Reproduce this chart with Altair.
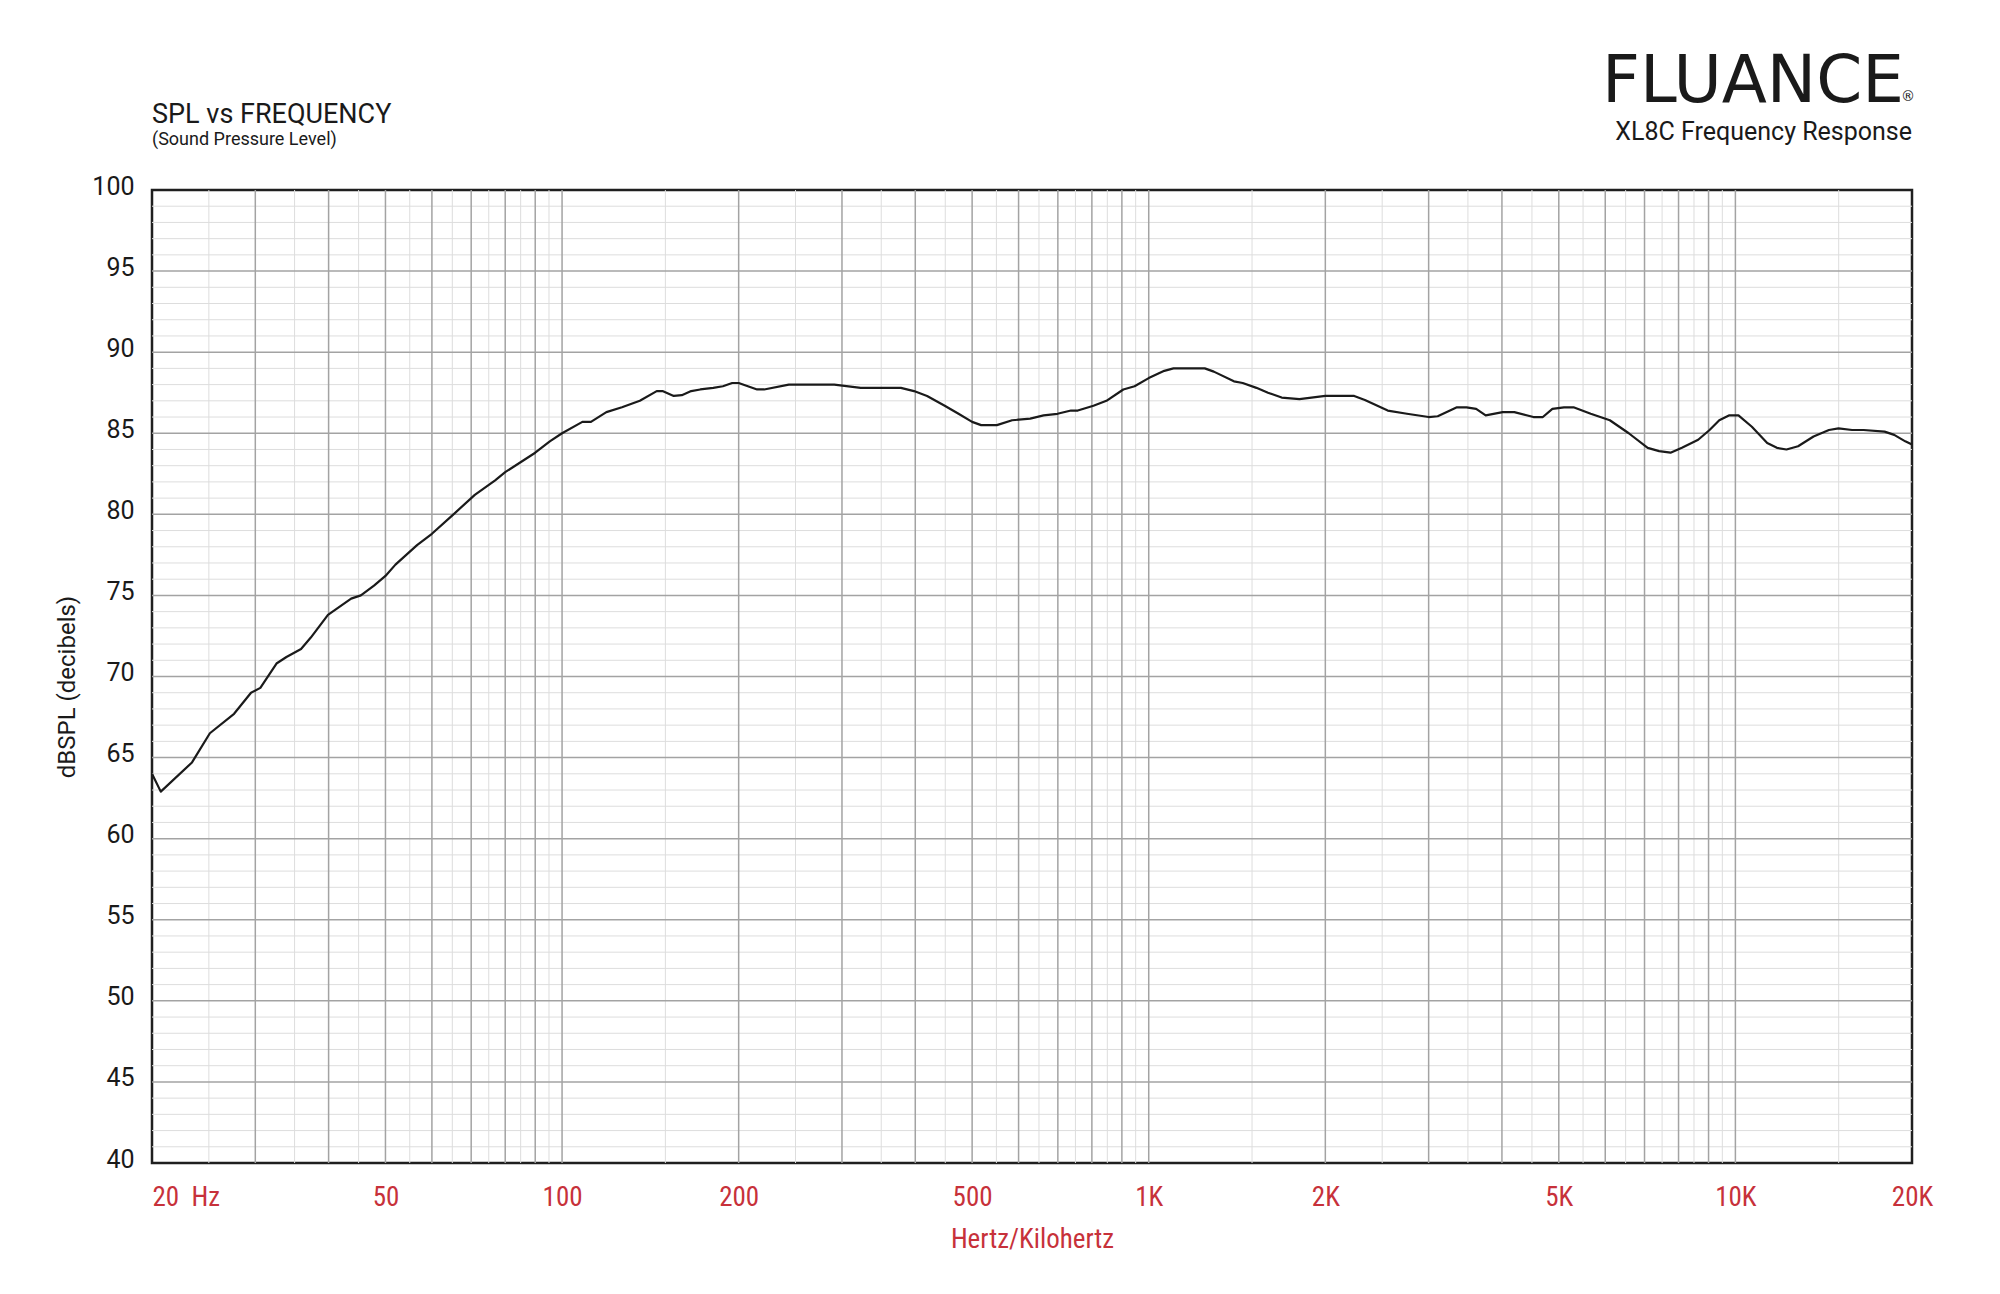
import json
import altair as alt
import pandas as pd

# ---------------- data ----------------
freq_hz = [
    20, 20.7, 23.4, 25.1, 27.6, 29.5, 30.6, 32.6, 33.9, 35.9,
    37.3, 39.9, 43.7, 45.4, 47.8, 50, 52, 56.6, 60, 65.3,
    71, 76.9, 80, 90, 95.3, 100, 108.3, 112, 119, 126.5,
    135.7, 145, 148.3, 155, 160, 166, 172, 181, 188, 195,
    200, 215, 221, 243.5, 265, 291, 323, 347, 378, 398,
    419, 449, 474, 500, 518, 551, 585, 628, 662, 699,
    737, 757, 805, 847, 905, 946, 1000, 1063, 1102, 1162,
    1246, 1291, 1397, 1446, 1526, 1597, 1685, 1807, 2000, 2130,
    2240, 2336, 2555, 2755, 3000, 3109, 3352, 3481, 3615, 3753,
    4012, 4199, 4525, 4697, 4876, 5103, 5298, 5668, 6109, 6580,
    7088, 7413, 7752, 8107, 8641, 9036, 9387, 9748, 10121, 10668,
    11330, 11770, 12220, 12790, 13589, 14437, 14988, 15810, 16540, 17960,
    18650, 19480, 20000,
]
spl_db = [
    64.0, 62.9, 64.7, 66.5, 67.7, 69.0, 69.3, 70.8, 71.2, 71.7,
    72.4, 73.8, 74.8, 75.0, 75.6, 76.2, 76.9, 78.1, 78.8, 80.0,
    81.2, 82.1, 82.6, 83.8, 84.5, 85.0, 85.7, 85.7, 86.3, 86.6,
    87.0, 87.6, 87.6, 87.3, 87.35, 87.6, 87.7, 87.8, 87.9, 88.1,
    88.1, 87.7, 87.7, 88.0, 88.0, 88.0, 87.8, 87.8, 87.8, 87.6,
    87.3, 86.7, 86.2, 85.7, 85.5, 85.5, 85.8, 85.9, 86.1, 86.2,
    86.4, 86.4, 86.7, 87.0, 87.7, 87.9, 88.4, 88.85, 89.0, 89.0,
    89.0, 88.8, 88.2, 88.1, 87.8, 87.5, 87.2, 87.1, 87.3, 87.3,
    87.3, 87.05, 86.4, 86.2, 86.0, 86.05, 86.6, 86.6, 86.5, 86.1,
    86.3, 86.3, 86.0, 86.0, 86.5, 86.6, 86.6, 86.2, 85.8, 85.0,
    84.1, 83.9, 83.8, 84.1, 84.6, 85.2, 85.8, 86.1, 86.1, 85.4,
    84.4, 84.1, 84.0, 84.2, 84.8, 85.2, 85.3, 85.2, 85.2, 85.1,
    84.9, 84.5, 84.3,
]

x_tick_values = [20, 50, 100, 200, 500, 1000, 2000, 5000, 10000, 20000]
x_tick_labels = ["20\u00a0 Hz", "50", "100", "200", "500", "1K", "2K", "5K", "10K", "20K"]
y_tick_values = [40, 45, 50, 55, 60, 65, 70, 75, 80, 85, 90, 95, 100]

major_x = [30, 40, 50, 60, 70, 80, 90, 100,
           200, 300, 400, 500, 600, 700, 800, 900, 1000,
           2000, 3000, 4000, 5000, 6000, 7000, 8000, 9000, 10000]
minor_x = [25, 35, 45, 55, 65, 75, 85, 95,
           150, 250, 350, 450, 550, 650, 750, 850, 950,
           1500, 2500, 3500, 4500, 5500, 6500, 7500, 8500, 9500, 15000]
major_y = [45, 50, 55, 60, 65, 70, 75, 80, 85, 90, 95]
minor_y = [v for v in range(41, 100) if v % 5 != 0]

# ---------------- styling ----------------
W, H = 1760, 973
RED = "#c7313a"
INK = "#1a1a1a"
FONT = "Roboto"
NARROW = "Liberation Sans Narrow, Roboto Condensed, Roboto"

x_scale = alt.Scale(type="log", domain=[20, 20000], nice=False)
y_scale = alt.Scale(domain=[40, 100], nice=False, zero=False)

label_expr = "{}[indexof({}, datum.value)]".format(
    json.dumps(x_tick_labels), json.dumps(x_tick_values))

x_axis = alt.Axis(
    values=x_tick_values, labelExpr=label_expr, title="Hertz/Kilohertz",
    grid=False, ticks=False, domain=False, labelFlush=False, labelOverlap=False,
    labelColor=RED, labelFont=NARROW, labelFontSize=27, labelPadding=21,
    labelAlign={"condition": {"test": "datum.value == 20", "value": "left"}, "value": "center"},
    titleColor=RED, titleFont=NARROW, titleFontSize=27, titleFontWeight="normal",
    titlePadding=16,
)
y_axis = alt.Axis(
    values=y_tick_values, title="dBSPL (decibels)",
    grid=False, ticks=False, domain=False, labelFlush=False, labelOverlap=False,
    labelColor=INK, labelFont=FONT, labelFontSize=25, labelPadding=18, labelOffset=-4,
    titleColor=INK, titleFont=FONT, titleFontSize=24, titleFontWeight="normal",
    titlePadding=12, titleY=H / 2 + 10,
)

minor_x_layer = alt.Chart(pd.DataFrame({"f": minor_x})).mark_rule(
    color="#dddddd", strokeWidth=1).encode(x=alt.X("f:Q", scale=x_scale, axis=x_axis))
minor_y_layer = alt.Chart(pd.DataFrame({"db": minor_y})).mark_rule(
    color="#dddddd", strokeWidth=1).encode(y=alt.Y("db:Q", scale=y_scale, axis=y_axis))
major_x_layer = alt.Chart(pd.DataFrame({"f": major_x})).mark_rule(
    color="#a3a3a3", strokeWidth=1.5).encode(x=alt.X("f:Q", scale=x_scale, axis=x_axis))
major_y_layer = alt.Chart(pd.DataFrame({"db": major_y})).mark_rule(
    color="#a3a3a3", strokeWidth=1.5).encode(y=alt.Y("db:Q", scale=y_scale, axis=y_axis))

curve = alt.Chart(pd.DataFrame({"f": freq_hz, "db": spl_db})).mark_line(
    color=INK, strokeWidth=2.2, interpolate="linear", strokeJoin="round").encode(
    x=alt.X("f:Q", scale=x_scale, axis=x_axis),
    y=alt.Y("db:Q", scale=y_scale, axis=y_axis),
)

one = pd.DataFrame({"k": [0]})


def label(text, x, y, size, align="left", font=FONT, weight="normal", color=INK):
    return alt.Chart(one).mark_text(
        text=text, align=align, baseline="alphabetic", font=font,
        fontSize=size, fontWeight=weight, color=color,
    ).encode(x=alt.value(x), y=alt.value(y))


title_main = label("SPL vs FREQUENCY", 0, -67, 27)
title_sub = label("(Sound Pressure Level)", 0, -45, 18)
logo = label("FLUANCE", 1752, -88, 66, align="right", font="DejaVu Sans")
logo_r = label("\u00ae", 1763, -89, 14, align="right", font="DejaVu Sans")
model = label("XL8C Frequency Response", 1760, -50, 25, align="right")

chart = alt.layer(
    minor_x_layer, minor_y_layer, major_x_layer, major_y_layer, curve,
    title_main, title_sub, logo, logo_r, model,
).properties(
    width=W, height=H,
    autosize=alt.AutoSizeParams(type="none"),
    padding={"left": 144, "top": 182, "right": 80, "bottom": 115},
    background="white",
).configure_view(stroke="#1f1f1f", strokeWidth=2.5)

chart.save("out.html", embed_options={"renderer": "svg", "actions": False})
